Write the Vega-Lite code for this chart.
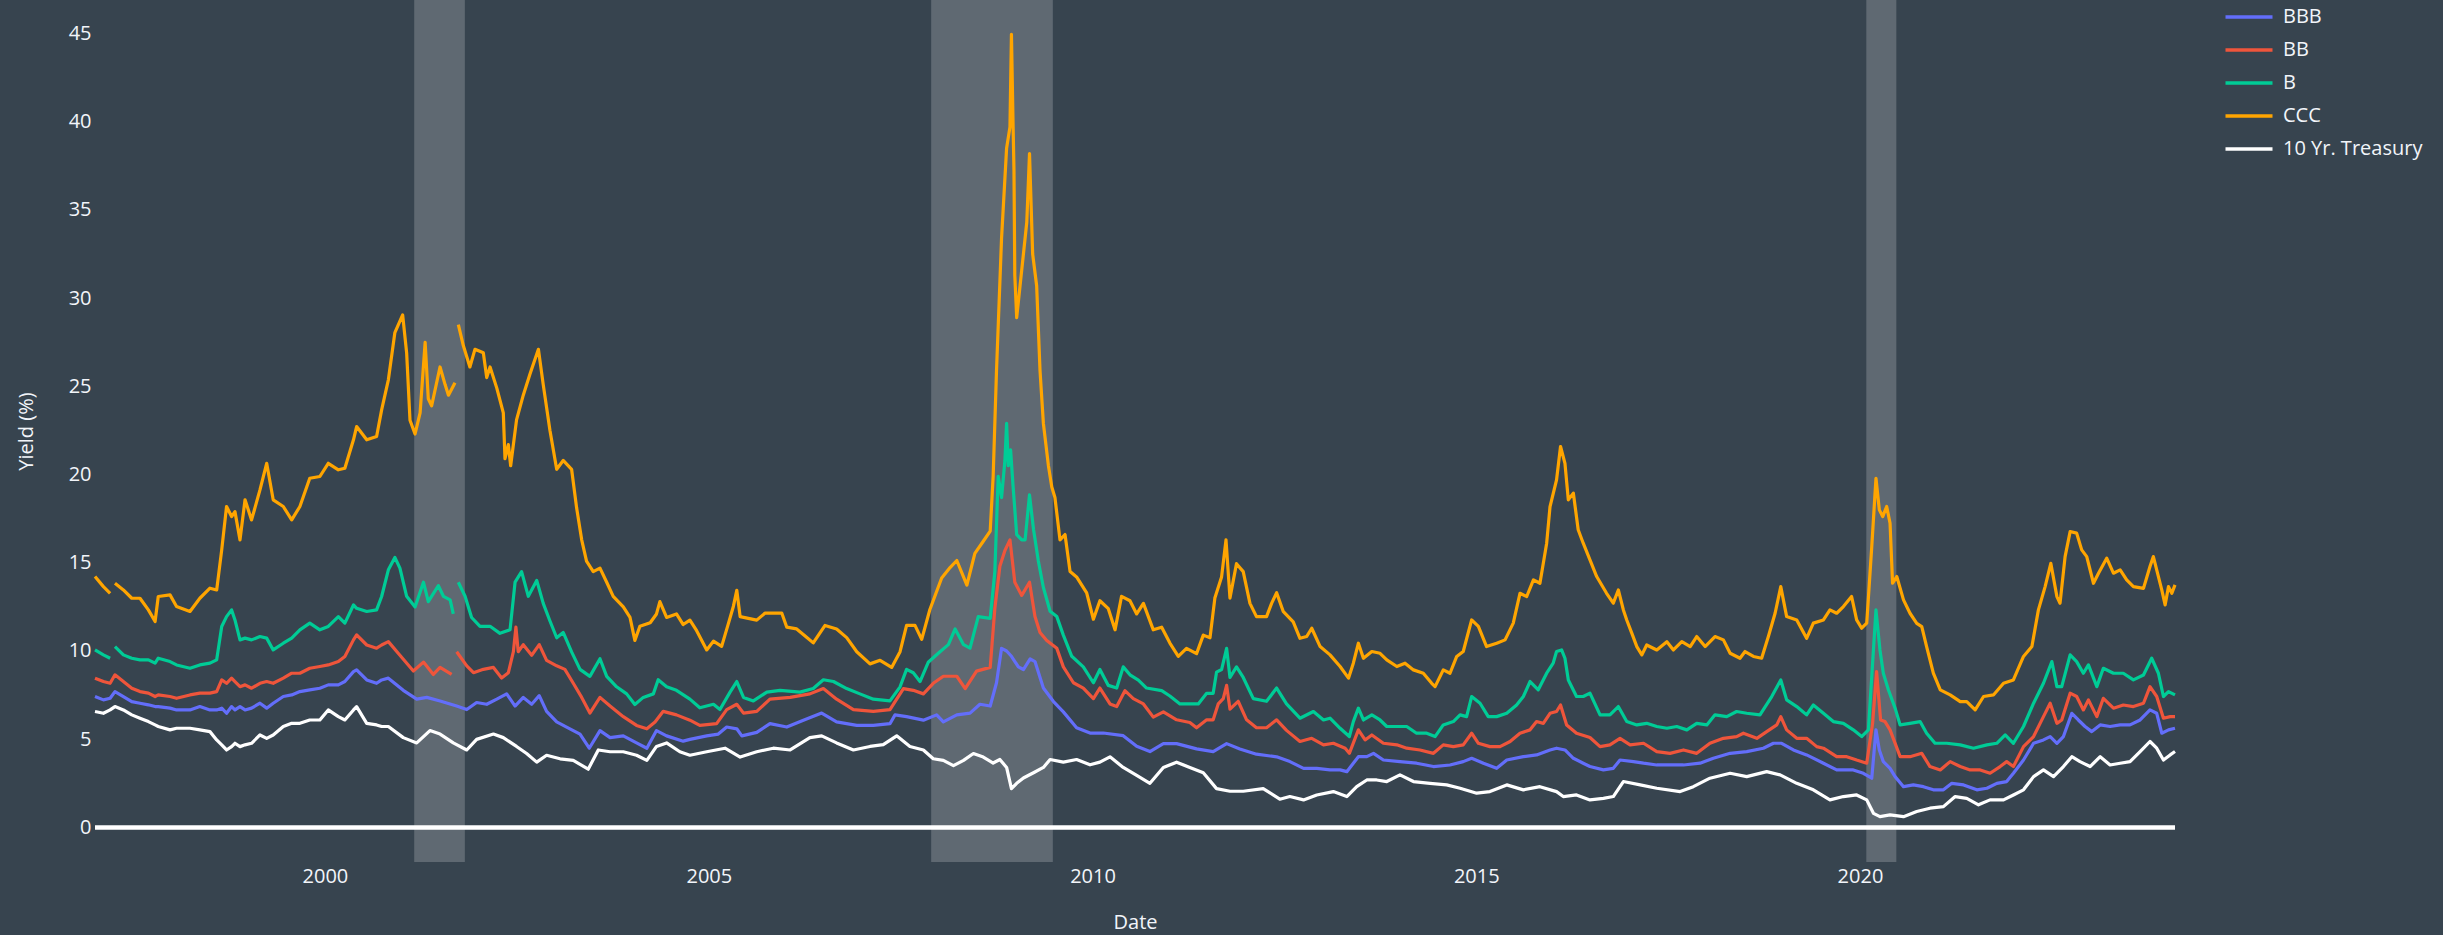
{
"$schema":"https://vega.github.io/schema/vega-lite/v6.json",
"width":2080,"height":862,
"autosize":{"type":"none"},
"padding":{"left":95,"top":0,"right":268,"bottom":73},
"background":"#37444f",
"config":{"view":{"stroke":null},"font":"Open Sans"},
"layer":[
{"data":{"values":[{"start":"2001-03-01","end":"2001-10-28"},{"start":"2007-11-25","end":"2009-06-26"},{"start":"2020-01-31","end":"2020-06-22"}]},
"mark":{"type":"rect","color":"#ffffff","opacity":0.2},
"encoding":{"x":{"field":"start","type":"temporal","scale":{"type":"utc"}},"x2":{"field":"end"}}},
{"data":{"values":[
{"d":"1997-01-02","s":"BBB","v":7.42},{"d":"1997-02-11","s":"BBB","v":7.23},{"d":"1997-03-15","s":"BBB","v":7.32},{"d":"1997-04-07","s":"BBB","v":7.70},{"d":"1997-05-17","s":"BBB","v":7.42},{"d":"1997-06-26","s":"BBB","v":7.13},{"d":"1997-08-04","s":"BBB","v":7.04},{"d":"1997-09-13","s":"BBB","v":6.95},{"d":"1997-10-15","s":"BBB","v":6.85},{"d":"1997-10-30","s":"BBB","v":6.85},{"d":"1997-12-25","s":"BBB","v":6.76},{"d":"1998-01-25","s":"BBB","v":6.66},{"d":"1998-03-30","s":"BBB","v":6.66},{"d":"1998-05-16","s":"BBB","v":6.85},{"d":"1998-07-03","s":"BBB","v":6.66},{"d":"1998-08-04","s":"BBB","v":6.66},{"d":"1998-08-28","s":"BBB","v":6.76},{"d":"1998-09-20","s":"BBB","v":6.47},{"d":"1998-10-14","s":"BBB","v":6.85},{"d":"1998-10-30","s":"BBB","v":6.66},{"d":"1998-11-23","s":"BBB","v":6.85},{"d":"1998-12-17","s":"BBB","v":6.66},{"d":"1999-01-17","s":"BBB","v":6.76},{"d":"1999-02-26","s":"BBB","v":7.04},{"d":"1999-03-30","s":"BBB","v":6.76},{"d":"1999-04-30","s":"BBB","v":7.04},{"d":"1999-06-17","s":"BBB","v":7.42},{"d":"1999-07-27","s":"BBB","v":7.51},{"d":"1999-09-04","s":"BBB","v":7.70},{"d":"1999-10-21","s":"BBB","v":7.80},{"d":"1999-12-08","s":"BBB","v":7.89},{"d":"2000-01-17","s":"BBB","v":8.08},{"d":"2000-03-05","s":"BBB","v":8.08},{"d":"2000-04-05","s":"BBB","v":8.27},{"d":"2000-05-16","s":"BBB","v":8.83},{"d":"2000-05-31","s":"BBB","v":8.93},{"d":"2000-07-18","s":"BBB","v":8.36},{"d":"2000-09-03","s":"BBB","v":8.17},{"d":"2000-09-27","s":"BBB","v":8.36},{"d":"2000-10-29","s":"BBB","v":8.46},{"d":"2001-01-08","s":"BBB","v":7.77},{"d":"2001-03-13","s":"BBB","v":7.27},{"d":"2001-04-30","s":"BBB","v":7.37},{"d":"2001-07-02","s":"BBB","v":7.17},{"d":"2001-09-19","s":"BBB","v":6.88},{"d":"2001-11-06","s":"BBB","v":6.68},{"d":"2001-12-23","s":"BBB","v":7.08},{"d":"2002-02-09","s":"BBB","v":6.98},{"d":"2002-03-29","s":"BBB","v":7.27},{"d":"2002-05-15","s":"BBB","v":7.57},{"d":"2002-06-24","s":"BBB","v":6.88},{"d":"2002-08-02","s":"BBB","v":7.37},{"d":"2002-09-11","s":"BBB","v":6.98},{"d":"2002-10-17","s":"BBB","v":7.47},{"d":"2002-11-21","s":"BBB","v":6.58},{"d":"2003-01-08","s":"BBB","v":5.98},{"d":"2003-03-12","s":"BBB","v":5.59},{"d":"2003-04-29","s":"BBB","v":5.29},{"d":"2003-06-12","s":"BBB","v":4.49},{"d":"2003-08-02","s":"BBB","v":5.49},{"d":"2003-09-19","s":"BBB","v":5.09},{"d":"2003-11-21","s":"BBB","v":5.19},{"d":"2004-01-23","s":"BBB","v":4.79},{"d":"2004-03-12","s":"BBB","v":4.49},{"d":"2004-04-27","s":"BBB","v":5.49},{"d":"2004-06-14","s":"BBB","v":5.19},{"d":"2004-09-01","s":"BBB","v":4.89},{"d":"2004-10-03","s":"BBB","v":4.99},{"d":"2004-12-22","s":"BBB","v":5.19},{"d":"2005-02-15","s":"BBB","v":5.29},{"d":"2005-03-27","s":"BBB","v":5.69},{"d":"2005-05-14","s":"BBB","v":5.59},{"d":"2005-06-07","s":"BBB","v":5.19},{"d":"2005-08-17","s":"BBB","v":5.39},{"d":"2005-10-19","s":"BBB","v":5.88},{"d":"2006-01-07","s":"BBB","v":5.69},{"d":"2006-03-27","s":"BBB","v":6.08},{"d":"2006-06-22","s":"BBB","v":6.48},{"d":"2006-09-01","s":"BBB","v":5.98},{"d":"2006-12-06","s":"BBB","v":5.78},{"d":"2007-02-23","s":"BBB","v":5.78},{"d":"2007-05-13","s":"BBB","v":5.88},{"d":"2007-06-06","s":"BBB","v":6.38},{"d":"2007-07-31","s":"BBB","v":6.28},{"d":"2007-10-19","s":"BBB","v":6.08},{"d":"2007-12-21","s":"BBB","v":6.38},{"d":"2008-01-22","s":"BBB","v":5.98},{"d":"2008-03-26","s":"BBB","v":6.38},{"d":"2008-05-28","s":"BBB","v":6.48},{"d":"2008-07-14","s":"BBB","v":6.98},{"d":"2008-09-01","s":"BBB","v":6.88},{"d":"2008-10-01","s":"BBB","v":8.2},{"d":"2008-10-25","s":"BBB","v":10.15},{"d":"2008-11-18","s":"BBB","v":10.0},{"d":"2008-12-11","s":"BBB","v":9.7},{"d":"2009-01-13","s":"BBB","v":9.1},{"d":"2009-02-06","s":"BBB","v":8.95},{"d":"2009-03-10","s":"BBB","v":9.55},{"d":"2009-04-02","s":"BBB","v":9.4},{"d":"2009-05-12","s":"BBB","v":7.9},{"d":"2009-06-28","s":"BBB","v":7.15},{"d":"2009-08-15","s":"BBB","v":6.55},{"d":"2009-10-17","s":"BBB","v":5.65},{"d":"2009-12-20","s":"BBB","v":5.35},{"d":"2010-02-21","s":"BBB","v":5.35},{"d":"2010-05-27","s":"BBB","v":5.2},{"d":"2010-07-30","s":"BBB","v":4.6},{"d":"2010-10-01","s":"BBB","v":4.3},{"d":"2010-12-04","s":"BBB","v":4.75},{"d":"2011-02-05","s":"BBB","v":4.75},{"d":"2011-05-11","s":"BBB","v":4.45},{"d":"2011-07-29","s":"BBB","v":4.3},{"d":"2011-10-01","s":"BBB","v":4.75},{"d":"2011-12-03","s":"BBB","v":4.45},{"d":"2012-02-20","s":"BBB","v":4.15},{"d":"2012-05-26","s":"BBB","v":4.0},{"d":"2012-07-28","s":"BBB","v":3.73},{"d":"2012-10-01","s":"BBB","v":3.35},{"d":"2012-12-03","s":"BBB","v":3.35},{"d":"2013-02-04","s":"BBB","v":3.26},{"d":"2013-03-24","s":"BBB","v":3.26},{"d":"2013-04-25","s":"BBB","v":3.16},{"d":"2013-06-19","s":"BBB","v":4.01},{"d":"2013-07-29","s":"BBB","v":4.01},{"d":"2013-08-30","s":"BBB","v":4.2},{"d":"2013-10-16","s":"BBB","v":3.82},{"d":"2014-01-03","s":"BBB","v":3.73},{"d":"2014-03-23","s":"BBB","v":3.64},{"d":"2014-06-11","s":"BBB","v":3.45},{"d":"2014-08-29","s":"BBB","v":3.54},{"d":"2014-10-31","s":"BBB","v":3.73},{"d":"2014-12-10","s":"BBB","v":3.92},{"d":"2015-02-04","s":"BBB","v":3.64},{"d":"2015-04-08","s":"BBB","v":3.35},{"d":"2015-05-26","s":"BBB","v":3.82},{"d":"2015-08-13","s":"BBB","v":4.01},{"d":"2015-10-15","s":"BBB","v":4.11},{"d":"2015-12-18","s":"BBB","v":4.39},{"d":"2016-01-18","s":"BBB","v":4.49},{"d":"2016-02-27","s":"BBB","v":4.39},{"d":"2016-04-07","s":"BBB","v":3.92},{"d":"2016-05-24","s":"BBB","v":3.64},{"d":"2016-06-25","s":"BBB","v":3.45},{"d":"2016-08-28","s":"BBB","v":3.26},{"d":"2016-10-14","s":"BBB","v":3.35},{"d":"2016-11-15","s":"BBB","v":3.82},{"d":"2017-01-18","s":"BBB","v":3.73},{"d":"2017-03-07","s":"BBB","v":3.64},{"d":"2017-05-09","s":"BBB","v":3.54},{"d":"2017-07-11","s":"BBB","v":3.54},{"d":"2017-09-13","s":"BBB","v":3.54},{"d":"2017-12-01","s":"BBB","v":3.64},{"d":"2018-02-02","s":"BBB","v":3.92},{"d":"2018-04-23","s":"BBB","v":4.2},{"d":"2018-07-11","s":"BBB","v":4.3},{"d":"2018-09-28","s":"BBB","v":4.49},{"d":"2018-11-15","s":"BBB","v":4.77},{"d":"2018-12-24","s":"BBB","v":4.77},{"d":"2019-02-18","s":"BBB","v":4.39},{"d":"2019-04-22","s":"BBB","v":4.11},{"d":"2019-07-11","s":"BBB","v":3.64},{"d":"2019-09-12","s":"BBB","v":3.26},{"d":"2019-11-30","s":"BBB","v":3.26},{"d":"2020-01-17","s":"BBB","v":3.07},{"d":"2020-02-26","s":"BBB","v":2.79},{"d":"2020-03-17","s":"BBB","v":5.53},{"d":"2020-04-02","s":"BBB","v":4.39},{"d":"2020-04-21","s":"BBB","v":3.73},{"d":"2020-05-23","s":"BBB","v":3.35},{"d":"2020-06-16","s":"BBB","v":2.88},{"d":"2020-07-26","s":"BBB","v":2.31},{"d":"2020-09-11","s":"BBB","v":2.41},{"d":"2020-10-29","s":"BBB","v":2.31},{"d":"2020-12-15","s":"BBB","v":2.13},{"d":"2021-02-01","s":"BBB","v":2.13},{"d":"2021-03-13","s":"BBB","v":2.5},{"d":"2021-05-08","s":"BBB","v":2.41},{"d":"2021-07-10","s":"BBB","v":2.13},{"d":"2021-08-27","s":"BBB","v":2.22},{"d":"2021-10-13","s":"BBB","v":2.5},{"d":"2021-11-29","s":"BBB","v":2.6},{"d":"2021-12-31","s":"BBB","v":3.07},{"d":"2022-02-17","s":"BBB","v":3.82},{"d":"2022-04-06","s":"BBB","v":4.77},{"d":"2022-05-23","s":"BBB","v":4.96},{"d":"2022-06-24","s":"BBB","v":5.15},{"d":"2022-07-26","s":"BBB","v":4.77},{"d":"2022-08-26","s":"BBB","v":5.15},{"d":"2022-10-05","s":"BBB","v":6.47},{"d":"2022-11-05","s":"BBB","v":6.09},{"d":"2022-12-07","s":"BBB","v":5.72},{"d":"2023-01-08","s":"BBB","v":5.43},{"d":"2023-02-17","s":"BBB","v":5.81},{"d":"2023-04-05","s":"BBB","v":5.72},{"d":"2023-05-23","s":"BBB","v":5.81},{"d":"2023-07-09","s":"BBB","v":5.81},{"d":"2023-08-26","s":"BBB","v":6.09},{"d":"2023-10-12","s":"BBB","v":6.66},{"d":"2023-11-13","s":"BBB","v":6.47},{"d":"2023-12-07","s":"BBB","v":5.34},{"d":"2024-01-08","s":"BBB","v":5.53},{"d":"2024-02-08","s":"BBB","v":5.62},
{"d":"1997-01-02","s":"BB","v":8.46},{"d":"1997-02-11","s":"BB","v":8.27},{"d":"1997-03-15","s":"BB","v":8.17},{"d":"1997-04-07","s":"BB","v":8.65},{"d":"1997-05-17","s":"BB","v":8.27},{"d":"1997-06-26","s":"BB","v":7.89},{"d":"1997-08-04","s":"BB","v":7.70},{"d":"1997-09-13","s":"BB","v":7.61},{"d":"1997-10-15","s":"BB","v":7.42},{"d":"1997-10-30","s":"BB","v":7.51},{"d":"1997-12-25","s":"BB","v":7.42},{"d":"1998-01-25","s":"BB","v":7.32},{"d":"1998-03-30","s":"BB","v":7.51},{"d":"1998-05-16","s":"BB","v":7.61},{"d":"1998-07-03","s":"BB","v":7.61},{"d":"1998-08-04","s":"BB","v":7.70},{"d":"1998-08-28","s":"BB","v":8.36},{"d":"1998-09-20","s":"BB","v":8.17},{"d":"1998-10-14","s":"BB","v":8.46},{"d":"1998-10-30","s":"BB","v":8.27},{"d":"1998-11-23","s":"BB","v":7.98},{"d":"1998-12-17","s":"BB","v":8.08},{"d":"1999-01-17","s":"BB","v":7.89},{"d":"1999-02-26","s":"BB","v":8.17},{"d":"1999-03-30","s":"BB","v":8.27},{"d":"1999-04-30","s":"BB","v":8.17},{"d":"1999-06-17","s":"BB","v":8.46},{"d":"1999-07-27","s":"BB","v":8.74},{"d":"1999-09-04","s":"BB","v":8.74},{"d":"1999-10-21","s":"BB","v":9.02},{"d":"1999-12-08","s":"BB","v":9.12},{"d":"2000-01-17","s":"BB","v":9.21},{"d":"2000-03-05","s":"BB","v":9.40},{"d":"2000-04-05","s":"BB","v":9.69},{"d":"2000-05-16","s":"BB","v":10.63},{"d":"2000-05-31","s":"BB","v":10.91},{"d":"2000-07-18","s":"BB","v":10.34},{"d":"2000-09-03","s":"BB","v":10.16},{"d":"2000-09-27","s":"BB","v":10.34},{"d":"2000-10-29","s":"BB","v":10.53},{"d":"2000-12-23","s":"BB","v":9.76},{"d":"2001-02-25","s":"BB","v":8.87},{"d":"2001-04-14","s":"BB","v":9.37},{"d":"2001-05-31","s":"BB","v":8.67},{"d":"2001-07-02","s":"BB","v":9.07},{"d":"2001-08-26","s":"BB","v":8.67},{"d":"2001-09-10","s":"BB","v":null},{"d":"2001-09-19","s":"BB","v":9.96},{"d":"2001-11-06","s":"BB","v":9.16},{"d":"2001-12-08","s":"BB","v":8.77},{"d":"2002-01-24","s":"BB","v":8.96},{"d":"2002-03-13","s":"BB","v":9.07},{"d":"2002-04-21","s":"BB","v":8.47},{"d":"2002-05-23","s":"BB","v":8.77},{"d":"2002-06-16","s":"BB","v":9.96},{"d":"2002-06-28","s":"BB","v":11.35},{"d":"2002-07-09","s":"BB","v":9.96},{"d":"2002-08-02","s":"BB","v":10.36},{"d":"2002-09-11","s":"BB","v":9.76},{"d":"2002-10-17","s":"BB","v":10.36},{"d":"2002-11-21","s":"BB","v":9.47},{"d":"2003-01-08","s":"BB","v":9.16},{"d":"2003-02-16","s":"BB","v":8.96},{"d":"2003-03-28","s":"BB","v":8.17},{"d":"2003-05-07","s":"BB","v":7.37},{"d":"2003-06-15","s":"BB","v":6.48},{"d":"2003-08-02","s":"BB","v":7.37},{"d":"2003-09-19","s":"BB","v":6.88},{"d":"2003-11-21","s":"BB","v":6.28},{"d":"2004-01-23","s":"BB","v":5.78},{"d":"2004-03-12","s":"BB","v":5.59},{"d":"2004-04-20","s":"BB","v":5.98},{"d":"2004-05-29","s":"BB","v":6.58},{"d":"2004-07-31","s":"BB","v":6.38},{"d":"2004-10-03","s":"BB","v":6.08},{"d":"2004-11-19","s":"BB","v":5.78},{"d":"2005-02-07","s":"BB","v":5.88},{"d":"2005-03-27","s":"BB","v":6.68},{"d":"2005-05-14","s":"BB","v":6.98},{"d":"2005-06-15","s":"BB","v":6.48},{"d":"2005-08-17","s":"BB","v":6.58},{"d":"2005-10-19","s":"BB","v":7.27},{"d":"2006-01-23","s":"BB","v":7.37},{"d":"2006-04-27","s":"BB","v":7.57},{"d":"2006-06-30","s":"BB","v":7.87},{"d":"2006-09-01","s":"BB","v":7.27},{"d":"2006-11-20","s":"BB","v":6.68},{"d":"2007-02-23","s":"BB","v":6.58},{"d":"2007-05-13","s":"BB","v":6.68},{"d":"2007-07-16","s":"BB","v":7.87},{"d":"2007-09-01","s":"BB","v":7.77},{"d":"2007-10-19","s":"BB","v":7.57},{"d":"2007-12-05","s":"BB","v":8.17},{"d":"2008-01-22","s":"BB","v":8.57},{"d":"2008-03-26","s":"BB","v":8.57},{"d":"2008-05-05","s":"BB","v":7.87},{"d":"2008-06-28","s":"BB","v":8.86},{"d":"2008-09-01","s":"BB","v":9.07},{"d":"2008-09-23","s":"BB","v":12.4},{"d":"2008-10-17","s":"BB","v":14.8},{"d":"2008-11-10","s":"BB","v":15.7},{"d":"2008-12-04","s":"BB","v":16.3},{"d":"2008-12-27","s":"BB","v":13.9},{"d":"2009-01-29","s":"BB","v":13.15},{"d":"2009-03-07","s":"BB","v":13.9},{"d":"2009-04-02","s":"BB","v":11.95},{"d":"2009-04-26","s":"BB","v":11.05},{"d":"2009-05-28","s":"BB","v":10.6},{"d":"2009-07-15","s":"BB","v":10.15},{"d":"2009-08-15","s":"BB","v":9.1},{"d":"2009-10-02","s":"BB","v":8.2},{"d":"2009-11-18","s":"BB","v":7.9},{"d":"2010-01-05","s":"BB","v":7.3},{"d":"2010-02-05","s":"BB","v":7.9},{"d":"2010-03-25","s":"BB","v":7.0},{"d":"2010-04-26","s":"BB","v":6.85},{"d":"2010-06-04","s":"BB","v":7.75},{"d":"2010-07-14","s":"BB","v":7.3},{"d":"2010-08-31","s":"BB","v":7.0},{"d":"2010-10-17","s":"BB","v":6.25},{"d":"2010-12-04","s":"BB","v":6.55},{"d":"2011-02-05","s":"BB","v":6.1},{"d":"2011-04-09","s":"BB","v":5.95},{"d":"2011-05-11","s":"BB","v":5.65},{"d":"2011-06-28","s":"BB","v":6.1},{"d":"2011-07-29","s":"BB","v":6.1},{"d":"2011-08-22","s":"BB","v":7.0},{"d":"2011-09-15","s":"BB","v":7.3},{"d":"2011-10-01","s":"BB","v":8.05},{"d":"2011-10-17","s":"BB","v":6.7},{"d":"2011-11-25","s":"BB","v":7.15},{"d":"2012-01-04","s":"BB","v":6.1},{"d":"2012-02-20","s":"BB","v":5.65},{"d":"2012-04-08","s":"BB","v":5.65},{"d":"2012-05-26","s":"BB","v":6.1},{"d":"2012-07-12","s":"BB","v":5.5},{"d":"2012-09-14","s":"BB","v":4.87},{"d":"2012-11-09","s":"BB","v":5.05},{"d":"2013-01-04","s":"BB","v":4.68},{"d":"2013-02-20","s":"BB","v":4.77},{"d":"2013-04-17","s":"BB","v":4.49},{"d":"2013-05-07","s":"BB","v":4.2},{"d":"2013-06-19","s":"BB","v":5.53},{"d":"2013-07-21","s":"BB","v":4.96},{"d":"2013-08-22","s":"BB","v":5.24},{"d":"2013-10-16","s":"BB","v":4.77},{"d":"2013-12-19","s":"BB","v":4.68},{"d":"2014-02-04","s":"BB","v":4.49},{"d":"2014-04-08","s":"BB","v":4.39},{"d":"2014-06-11","s":"BB","v":4.2},{"d":"2014-07-28","s":"BB","v":4.68},{"d":"2014-09-14","s":"BB","v":4.58},{"d":"2014-10-31","s":"BB","v":4.68},{"d":"2014-12-10","s":"BB","v":5.34},{"d":"2015-01-11","s":"BB","v":4.77},{"d":"2015-03-07","s":"BB","v":4.58},{"d":"2015-04-24","s":"BB","v":4.58},{"d":"2015-06-11","s":"BB","v":4.87},{"d":"2015-07-28","s":"BB","v":5.34},{"d":"2015-09-14","s":"BB","v":5.53},{"d":"2015-10-15","s":"BB","v":6.0},{"d":"2015-11-16","s":"BB","v":5.9},{"d":"2015-12-18","s":"BB","v":6.47},{"d":"2016-01-18","s":"BB","v":6.57},{"d":"2016-02-06","s":"BB","v":6.94},{"d":"2016-03-06","s":"BB","v":5.81},{"d":"2016-04-22","s":"BB","v":5.34},{"d":"2016-06-25","s":"BB","v":5.1},{"d":"2016-08-12","s":"BB","v":4.58},{"d":"2016-09-28","s":"BB","v":4.68},{"d":"2016-11-15","s":"BB","v":5.05},{"d":"2017-01-02","s":"BB","v":4.68},{"d":"2017-03-07","s":"BB","v":4.77},{"d":"2017-05-09","s":"BB","v":4.3},{"d":"2017-07-11","s":"BB","v":4.2},{"d":"2017-09-13","s":"BB","v":4.39},{"d":"2017-11-15","s":"BB","v":4.2},{"d":"2018-01-17","s":"BB","v":4.77},{"d":"2018-03-22","s":"BB","v":5.05},{"d":"2018-05-24","s":"BB","v":5.15},{"d":"2018-06-25","s":"BB","v":5.34},{"d":"2018-08-28","s":"BB","v":5.05},{"d":"2018-10-14","s":"BB","v":5.43},{"d":"2018-12-01","s":"BB","v":5.81},{"d":"2018-12-20","s":"BB","v":6.28},{"d":"2019-01-17","s":"BB","v":5.53},{"d":"2019-03-06","s":"BB","v":5.05},{"d":"2019-04-22","s":"BB","v":5.05},{"d":"2019-06-09","s":"BB","v":4.58},{"d":"2019-07-11","s":"BB","v":4.49},{"d":"2019-09-12","s":"BB","v":4.01},{"d":"2019-10-30","s":"BB","v":4.01},{"d":"2019-12-16","s":"BB","v":3.82},{"d":"2020-02-02","s":"BB","v":3.64},{"d":"2020-03-01","s":"BB","v":5.9},{"d":"2020-03-20","s":"BB","v":8.83},{"d":"2020-04-08","s":"BB","v":6.09},{"d":"2020-04-29","s":"BB","v":6.0},{"d":"2020-05-23","s":"BB","v":5.53},{"d":"2020-07-10","s":"BB","v":4.01},{"d":"2020-08-26","s":"BB","v":4.01},{"d":"2020-10-21","s":"BB","v":4.2},{"d":"2020-11-29","s":"BB","v":3.45},{"d":"2021-01-17","s":"BB","v":3.26},{"d":"2021-03-05","s":"BB","v":3.73},{"d":"2021-04-22","s":"BB","v":3.45},{"d":"2021-06-08","s":"BB","v":3.26},{"d":"2021-07-26","s":"BB","v":3.26},{"d":"2021-09-11","s":"BB","v":3.07},{"d":"2021-10-29","s":"BB","v":3.45},{"d":"2021-11-29","s":"BB","v":3.73},{"d":"2021-12-31","s":"BB","v":3.45},{"d":"2022-02-17","s":"BB","v":4.58},{"d":"2022-04-06","s":"BB","v":5.15},{"d":"2022-05-23","s":"BB","v":6.28},{"d":"2022-06-24","s":"BB","v":7.04},{"d":"2022-07-26","s":"BB","v":5.9},{"d":"2022-08-18","s":"BB","v":6.09},{"d":"2022-09-27","s":"BB","v":7.61},{"d":"2022-10-28","s":"BB","v":7.42},{"d":"2022-11-29","s":"BB","v":6.66},{"d":"2022-12-23","s":"BB","v":7.23},{"d":"2023-02-01","s":"BB","v":6.28},{"d":"2023-03-04","s":"BB","v":7.32},{"d":"2023-04-21","s":"BB","v":6.76},{"d":"2023-06-07","s":"BB","v":6.94},{"d":"2023-07-25","s":"BB","v":6.85},{"d":"2023-09-11","s":"BB","v":7.04},{"d":"2023-10-12","s":"BB","v":7.98},{"d":"2023-11-13","s":"BB","v":7.42},{"d":"2023-12-15","s":"BB","v":6.19},{"d":"2024-01-16","s":"BB","v":6.28},{"d":"2024-02-08","s":"BB","v":6.28},
{"d":"1997-01-02","s":"B","v":10.06},{"d":"1997-02-11","s":"B","v":9.78},{"d":"1997-03-15","s":"B","v":9.59},{"d":"1997-03-27","s":"B","v":null},{"d":"1997-04-07","s":"B","v":10.25},{"d":"1997-05-17","s":"B","v":9.78},{"d":"1997-06-26","s":"B","v":9.59},{"d":"1997-08-04","s":"B","v":9.50},{"d":"1997-09-13","s":"B","v":9.50},{"d":"1997-10-15","s":"B","v":9.31},{"d":"1997-10-30","s":"B","v":9.59},{"d":"1997-12-25","s":"B","v":9.40},{"d":"1998-01-25","s":"B","v":9.21},{"d":"1998-03-30","s":"B","v":9.02},{"d":"1998-05-16","s":"B","v":9.21},{"d":"1998-07-03","s":"B","v":9.31},{"d":"1998-08-04","s":"B","v":9.50},{"d":"1998-08-28","s":"B","v":11.39},{"d":"1998-09-20","s":"B","v":11.95},{"d":"1998-10-14","s":"B","v":12.33},{"d":"1998-10-30","s":"B","v":11.76},{"d":"1998-11-23","s":"B","v":10.63},{"d":"1998-12-17","s":"B","v":10.73},{"d":"1999-01-17","s":"B","v":10.63},{"d":"1999-02-26","s":"B","v":10.82},{"d":"1999-03-30","s":"B","v":10.73},{"d":"1999-04-30","s":"B","v":10.06},{"d":"1999-06-17","s":"B","v":10.44},{"d":"1999-07-27","s":"B","v":10.73},{"d":"1999-09-04","s":"B","v":11.20},{"d":"1999-10-21","s":"B","v":11.58},{"d":"1999-12-08","s":"B","v":11.20},{"d":"2000-01-17","s":"B","v":11.39},{"d":"2000-03-05","s":"B","v":11.95},{"d":"2000-04-05","s":"B","v":11.58},{"d":"2000-05-16","s":"B","v":12.61},{"d":"2000-05-31","s":"B","v":12.42},{"d":"2000-07-18","s":"B","v":12.24},{"d":"2000-09-03","s":"B","v":12.33},{"d":"2000-09-27","s":"B","v":13.09},{"d":"2000-10-29","s":"B","v":14.60},{"d":"2000-11-29","s":"B","v":15.3},{"d":"2000-12-23","s":"B","v":14.7},{"d":"2001-01-24","s":"B","v":13.1},{"d":"2001-03-05","s":"B","v":12.5},{"d":"2001-04-14","s":"B","v":13.9},{"d":"2001-05-07","s":"B","v":12.8},{"d":"2001-06-24","s":"B","v":13.7},{"d":"2001-07-18","s":"B","v":13.1},{"d":"2001-08-19","s":"B","v":12.9},{"d":"2001-09-03","s":"B","v":12.1},{"d":"2001-09-11","s":"B","v":null},{"d":"2001-09-27","s":"B","v":13.9},{"d":"2001-10-29","s":"B","v":13.1},{"d":"2001-11-29","s":"B","v":11.9},{"d":"2002-01-08","s":"B","v":11.4},{"d":"2002-02-25","s":"B","v":11.4},{"d":"2002-04-13","s":"B","v":11.0},{"d":"2002-05-31","s":"B","v":11.2},{"d":"2002-06-24","s":"B","v":13.9},{"d":"2002-07-25","s":"B","v":14.5},{"d":"2002-08-26","s":"B","v":13.1},{"d":"2002-10-05","s":"B","v":14.0},{"d":"2002-11-05","s":"B","v":12.7},{"d":"2002-12-07","s":"B","v":11.7},{"d":"2003-01-08","s":"B","v":10.75},{"d":"2003-02-08","s":"B","v":11.05},{"d":"2003-03-20","s":"B","v":9.95},{"d":"2003-04-29","s":"B","v":8.96},{"d":"2003-06-15","s":"B","v":8.56},{"d":"2003-08-02","s":"B","v":9.56},{"d":"2003-09-03","s":"B","v":8.56},{"d":"2003-10-20","s":"B","v":7.97},{"d":"2003-12-07","s":"B","v":7.57},{"d":"2004-01-15","s":"B","v":6.97},{"d":"2004-02-24","s":"B","v":7.37},{"d":"2004-04-12","s":"B","v":7.57},{"d":"2004-05-05","s":"B","v":8.37},{"d":"2004-06-14","s":"B","v":7.97},{"d":"2004-07-31","s":"B","v":7.77},{"d":"2004-10-03","s":"B","v":7.27},{"d":"2004-11-19","s":"B","v":6.78},{"d":"2005-01-23","s":"B","v":6.98},{"d":"2005-02-23","s":"B","v":6.68},{"d":"2005-04-12","s":"B","v":7.67},{"d":"2005-05-14","s":"B","v":8.27},{"d":"2005-06-15","s":"B","v":7.37},{"d":"2005-08-01","s":"B","v":7.17},{"d":"2005-10-04","s":"B","v":7.67},{"d":"2005-12-06","s":"B","v":7.77},{"d":"2006-03-11","s":"B","v":7.67},{"d":"2006-05-13","s":"B","v":7.87},{"d":"2006-06-30","s":"B","v":8.37},{"d":"2006-08-17","s":"B","v":8.27},{"d":"2006-10-19","s":"B","v":7.87},{"d":"2006-12-21","s":"B","v":7.57},{"d":"2007-02-23","s":"B","v":7.27},{"d":"2007-05-13","s":"B","v":7.17},{"d":"2007-06-30","s":"B","v":7.97},{"d":"2007-07-31","s":"B","v":8.96},{"d":"2007-09-01","s":"B","v":8.77},{"d":"2007-10-03","s":"B","v":8.27},{"d":"2007-11-11","s":"B","v":9.36},{"d":"2008-01-06","s":"B","v":9.96},{"d":"2008-02-15","s":"B","v":10.36},{"d":"2008-03-18","s":"B","v":11.25},{"d":"2008-04-27","s":"B","v":10.36},{"d":"2008-05-28","s":"B","v":10.16},{"d":"2008-07-06","s":"B","v":11.95},{"d":"2008-09-01","s":"B","v":11.85},{"d":"2008-09-23","s":"B","v":14.5},{"d":"2008-10-09","s":"B","v":19.9},{"d":"2008-10-25","s":"B","v":18.7},{"d":"2008-11-10","s":"B","v":20.8},{"d":"2008-11-18","s":"B","v":22.9},{"d":"2008-11-26","s":"B","v":20.5},{"d":"2008-12-07","s":"B","v":21.4},{"d":"2008-12-19","s":"B","v":19.3},{"d":"2009-01-05","s":"B","v":16.6},{"d":"2009-01-29","s":"B","v":16.3},{"d":"2009-02-14","s":"B","v":16.3},{"d":"2009-03-07","s":"B","v":18.85},{"d":"2009-03-26","s":"B","v":16.9},{"d":"2009-04-18","s":"B","v":15.1},{"d":"2009-05-12","s":"B","v":13.6},{"d":"2009-06-13","s":"B","v":12.25},{"d":"2009-07-15","s":"B","v":11.95},{"d":"2009-08-15","s":"B","v":10.9},{"d":"2009-09-24","s":"B","v":9.7},{"d":"2009-11-18","s":"B","v":9.1},{"d":"2010-01-05","s":"B","v":8.2},{"d":"2010-02-05","s":"B","v":8.95},{"d":"2010-03-17","s":"B","v":8.05},{"d":"2010-04-26","s":"B","v":7.9},{"d":"2010-05-27","s":"B","v":9.1},{"d":"2010-06-28","s":"B","v":8.65},{"d":"2010-08-07","s":"B","v":8.35},{"d":"2010-09-15","s":"B","v":7.9},{"d":"2010-11-26","s":"B","v":7.75},{"d":"2011-01-04","s":"B","v":7.45},{"d":"2011-02-21","s":"B","v":7.0},{"d":"2011-04-09","s":"B","v":7.0},{"d":"2011-05-19","s":"B","v":7.0},{"d":"2011-06-28","s":"B","v":7.6},{"d":"2011-07-29","s":"B","v":7.6},{"d":"2011-08-14","s":"B","v":8.8},{"d":"2011-09-07","s":"B","v":8.95},{"d":"2011-10-01","s":"B","v":10.15},{"d":"2011-10-17","s":"B","v":8.5},{"d":"2011-11-17","s":"B","v":9.1},{"d":"2011-12-19","s":"B","v":8.5},{"d":"2012-02-05","s":"B","v":7.3},{"d":"2012-04-08","s":"B","v":7.15},{"d":"2012-05-26","s":"B","v":7.9},{"d":"2012-07-12","s":"B","v":7.0},{"d":"2012-09-14","s":"B","v":6.19},{"d":"2012-11-17","s":"B","v":6.57},{"d":"2013-01-04","s":"B","v":6.09},{"d":"2013-02-04","s":"B","v":6.19},{"d":"2013-03-24","s":"B","v":5.62},{"d":"2013-05-07","s":"B","v":5.15},{"d":"2013-05-26","s":"B","v":6.0},{"d":"2013-06-19","s":"B","v":6.76},{"d":"2013-07-13","s":"B","v":6.09},{"d":"2013-08-22","s":"B","v":6.38},{"d":"2013-09-30","s":"B","v":6.09},{"d":"2013-11-01","s":"B","v":5.72},{"d":"2013-12-19","s":"B","v":5.72},{"d":"2014-02-04","s":"B","v":5.72},{"d":"2014-03-23","s":"B","v":5.34},{"d":"2014-05-10","s":"B","v":5.34},{"d":"2014-06-19","s":"B","v":5.15},{"d":"2014-07-28","s":"B","v":5.81},{"d":"2014-09-14","s":"B","v":6.0},{"d":"2014-10-16","s":"B","v":6.38},{"d":"2014-11-16","s":"B","v":6.28},{"d":"2014-12-10","s":"B","v":7.42},{"d":"2015-01-19","s":"B","v":7.04},{"d":"2015-02-27","s":"B","v":6.28},{"d":"2015-04-08","s":"B","v":6.28},{"d":"2015-05-26","s":"B","v":6.47},{"d":"2015-07-12","s":"B","v":6.94},{"d":"2015-08-13","s":"B","v":7.42},{"d":"2015-09-14","s":"B","v":8.27},{"d":"2015-10-23","s":"B","v":7.8},{"d":"2015-12-02","s":"B","v":8.74},{"d":"2016-01-02","s":"B","v":9.31},{"d":"2016-01-18","s":"B","v":9.97},{"d":"2016-02-11","s":"B","v":10.06},{"d":"2016-02-27","s":"B","v":9.59},{"d":"2016-03-14","s":"B","v":8.36},{"d":"2016-04-22","s":"B","v":7.42},{"d":"2016-05-24","s":"B","v":7.42},{"d":"2016-06-25","s":"B","v":7.61},{"d":"2016-08-12","s":"B","v":6.38},{"d":"2016-09-28","s":"B","v":6.38},{"d":"2016-11-07","s":"B","v":6.85},{"d":"2016-12-17","s":"B","v":6.0},{"d":"2017-02-03","s":"B","v":5.81},{"d":"2017-03-22","s":"B","v":5.9},{"d":"2017-05-09","s":"B","v":5.72},{"d":"2017-06-26","s":"B","v":5.62},{"d":"2017-08-12","s":"B","v":5.72},{"d":"2017-09-29","s":"B","v":5.53},{"d":"2017-11-15","s":"B","v":5.9},{"d":"2018-01-02","s":"B","v":5.81},{"d":"2018-02-10","s":"B","v":6.38},{"d":"2018-04-07","s":"B","v":6.28},{"d":"2018-05-24","s":"B","v":6.57},{"d":"2018-07-11","s":"B","v":6.47},{"d":"2018-09-12","s":"B","v":6.38},{"d":"2018-11-07","s":"B","v":7.42},{"d":"2018-12-20","s":"B","v":8.36},{"d":"2019-01-17","s":"B","v":7.23},{"d":"2019-03-06","s":"B","v":6.85},{"d":"2019-04-22","s":"B","v":6.38},{"d":"2019-05-24","s":"B","v":6.94},{"d":"2019-07-11","s":"B","v":6.47},{"d":"2019-08-27","s":"B","v":6.0},{"d":"2019-10-14","s":"B","v":5.9},{"d":"2019-11-30","s":"B","v":5.53},{"d":"2020-01-09","s":"B","v":5.15},{"d":"2020-02-10","s":"B","v":5.53},{"d":"2020-03-01","s":"B","v":9.31},{"d":"2020-03-17","s":"B","v":12.33},{"d":"2020-04-05","s":"B","v":10.06},{"d":"2020-04-21","s":"B","v":8.74},{"d":"2020-05-15","s":"B","v":7.8},{"d":"2020-06-16","s":"B","v":6.76},{"d":"2020-07-10","s":"B","v":5.81},{"d":"2020-08-26","s":"B","v":5.9},{"d":"2020-10-13","s":"B","v":6.0},{"d":"2020-11-13","s":"B","v":5.34},{"d":"2020-12-23","s":"B","v":4.77},{"d":"2021-02-17","s":"B","v":4.77},{"d":"2021-04-22","s":"B","v":4.68},{"d":"2021-06-24","s":"B","v":4.49},{"d":"2021-08-27","s":"B","v":4.68},{"d":"2021-10-13","s":"B","v":4.77},{"d":"2021-11-22","s":"B","v":5.24},{"d":"2021-12-31","s":"B","v":4.77},{"d":"2022-02-17","s":"B","v":5.72},{"d":"2022-04-06","s":"B","v":7.04},{"d":"2022-05-23","s":"B","v":8.17},{"d":"2022-07-02","s":"B","v":9.4},{"d":"2022-07-26","s":"B","v":7.98},{"d":"2022-08-18","s":"B","v":7.98},{"d":"2022-09-27","s":"B","v":9.78},{"d":"2022-10-28","s":"B","v":9.4},{"d":"2022-11-29","s":"B","v":8.74},{"d":"2022-12-23","s":"B","v":9.21},{"d":"2023-02-01","s":"B","v":7.98},{"d":"2023-03-04","s":"B","v":9.02},{"d":"2023-04-21","s":"B","v":8.74},{"d":"2023-06-07","s":"B","v":8.74},{"d":"2023-07-25","s":"B","v":8.36},{"d":"2023-09-11","s":"B","v":8.64},{"d":"2023-10-20","s":"B","v":9.59},{"d":"2023-11-21","s":"B","v":8.74},{"d":"2023-12-15","s":"B","v":7.42},{"d":"2024-01-08","s":"B","v":7.7},{"d":"2024-02-08","s":"B","v":7.51},
{"d":"1997-01-02","s":"CCC","v":14.22},{"d":"1997-02-11","s":"CCC","v":13.65},{"d":"1997-03-15","s":"CCC","v":13.27},{"d":"1997-03-27","s":"CCC","v":null},{"d":"1997-04-07","s":"CCC","v":13.84},{"d":"1997-05-17","s":"CCC","v":13.46},{"d":"1997-06-26","s":"CCC","v":12.99},{"d":"1997-08-04","s":"CCC","v":12.99},{"d":"1997-09-13","s":"CCC","v":12.33},{"d":"1997-10-15","s":"CCC","v":11.67},{"d":"1997-10-30","s":"CCC","v":13.09},{"d":"1997-12-25","s":"CCC","v":13.18},{"d":"1998-01-25","s":"CCC","v":12.52},{"d":"1998-03-30","s":"CCC","v":12.24},{"d":"1998-05-16","s":"CCC","v":12.99},{"d":"1998-07-03","s":"CCC","v":13.56},{"d":"1998-08-04","s":"CCC","v":13.46},{"d":"1998-08-28","s":"CCC","v":15.73},{"d":"1998-09-20","s":"CCC","v":18.19},{"d":"1998-10-14","s":"CCC","v":17.62},{"d":"1998-10-30","s":"CCC","v":17.90},{"d":"1998-11-23","s":"CCC","v":16.30},{"d":"1998-12-17","s":"CCC","v":18.57},{"d":"1999-01-17","s":"CCC","v":17.43},{"d":"1999-02-26","s":"CCC","v":19.13},{"d":"1999-03-30","s":"CCC","v":20.64},{"d":"1999-04-30","s":"CCC","v":18.57},{"d":"1999-06-17","s":"CCC","v":18.19},{"d":"1999-07-27","s":"CCC","v":17.43},{"d":"1999-09-04","s":"CCC","v":18.19},{"d":"1999-10-21","s":"CCC","v":19.79},{"d":"1999-12-08","s":"CCC","v":19.89},{"d":"2000-01-17","s":"CCC","v":20.64},{"d":"2000-03-05","s":"CCC","v":20.27},{"d":"2000-04-05","s":"CCC","v":20.36},{"d":"2000-05-16","s":"CCC","v":21.97},{"d":"2000-05-31","s":"CCC","v":22.72},{"d":"2000-07-18","s":"CCC","v":21.97},{"d":"2000-09-03","s":"CCC","v":22.16},{"d":"2000-09-27","s":"CCC","v":23.67},{"d":"2000-10-29","s":"CCC","v":25.37},{"d":"2000-11-29","s":"CCC","v":28.05},{"d":"2001-01-05","s":"CCC","v":29.05},{"d":"2001-01-24","s":"CCC","v":26.9},{"d":"2001-02-09","s":"CCC","v":23.08},{"d":"2001-03-05","s":"CCC","v":22.3},{"d":"2001-03-29","s":"CCC","v":23.5},{"d":"2001-04-22","s":"CCC","v":27.5},{"d":"2001-05-07","s":"CCC","v":24.3},{"d":"2001-05-23","s":"CCC","v":23.9},{"d":"2001-07-02","s":"CCC","v":26.1},{"d":"2001-07-26","s":"CCC","v":25.1},{"d":"2001-08-11","s":"CCC","v":24.5},{"d":"2001-09-11","s":"CCC","v":25.2},{"d":"2001-09-15","s":"CCC","v":null},{"d":"2001-09-27","s":"CCC","v":28.5},{"d":"2001-10-21","s":"CCC","v":27.3},{"d":"2001-11-21","s":"CCC","v":26.1},{"d":"2001-12-15","s":"CCC","v":27.1},{"d":"2002-01-24","s":"CCC","v":26.9},{"d":"2002-02-09","s":"CCC","v":25.5},{"d":"2002-02-25","s":"CCC","v":26.1},{"d":"2002-03-29","s":"CCC","v":24.9},{"d":"2002-04-29","s":"CCC","v":23.5},{"d":"2002-05-07","s":"CCC","v":20.9},{"d":"2002-05-23","s":"CCC","v":21.7},{"d":"2002-06-03","s":"CCC","v":20.5},{"d":"2002-07-01","s":"CCC","v":23.1},{"d":"2002-08-02","s":"CCC","v":24.5},{"d":"2002-09-03","s":"CCC","v":25.7},{"d":"2002-10-13","s":"CCC","v":27.1},{"d":"2002-11-05","s":"CCC","v":25.1},{"d":"2002-12-07","s":"CCC","v":22.5},{"d":"2003-01-08","s":"CCC","v":20.3},{"d":"2003-02-08","s":"CCC","v":20.8},{"d":"2003-03-20","s":"CCC","v":20.3},{"d":"2003-04-13","s":"CCC","v":18.1},{"d":"2003-05-07","s":"CCC","v":16.3},{"d":"2003-05-30","s":"CCC","v":15.1},{"d":"2003-07-01","s":"CCC","v":14.5},{"d":"2003-08-02","s":"CCC","v":14.7},{"d":"2003-09-03","s":"CCC","v":13.9},{"d":"2003-10-04","s":"CCC","v":13.1},{"d":"2003-11-21","s":"CCC","v":12.5},{"d":"2003-12-23","s":"CCC","v":11.9},{"d":"2004-01-15","s":"CCC","v":10.6},{"d":"2004-02-08","s":"CCC","v":11.4},{"d":"2004-03-28","s":"CCC","v":11.6},{"d":"2004-04-27","s":"CCC","v":12.1},{"d":"2004-05-13","s":"CCC","v":12.8},{"d":"2004-06-14","s":"CCC","v":11.9},{"d":"2004-07-31","s":"CCC","v":12.1},{"d":"2004-09-01","s":"CCC","v":11.5},{"d":"2004-10-03","s":"CCC","v":11.75},{"d":"2004-11-04","s":"CCC","v":11.15},{"d":"2004-12-22","s":"CCC","v":10.06},{"d":"2005-01-23","s":"CCC","v":10.56},{"d":"2005-03-03","s":"CCC","v":10.26},{"d":"2005-04-04","s":"CCC","v":11.55},{"d":"2005-04-28","s":"CCC","v":12.54},{"d":"2005-05-14","s":"CCC","v":13.44},{"d":"2005-05-30","s":"CCC","v":11.95},{"d":"2005-07-08","s":"CCC","v":11.85},{"d":"2005-08-17","s":"CCC","v":11.75},{"d":"2005-09-26","s":"CCC","v":12.15},{"d":"2005-12-14","s":"CCC","v":12.15},{"d":"2006-01-07","s":"CCC","v":11.35},{"d":"2006-02-23","s":"CCC","v":11.25},{"d":"2006-04-04","s":"CCC","v":10.85},{"d":"2006-05-13","s":"CCC","v":10.46},{"d":"2006-07-08","s":"CCC","v":11.45},{"d":"2006-09-01","s":"CCC","v":11.25},{"d":"2006-10-19","s":"CCC","v":10.76},{"d":"2006-12-06","s":"CCC","v":9.96},{"d":"2007-02-07","s":"CCC","v":9.27},{"d":"2007-03-27","s":"CCC","v":9.47},{"d":"2007-05-21","s":"CCC","v":9.07},{"d":"2007-06-30","s":"CCC","v":9.96},{"d":"2007-07-31","s":"CCC","v":11.45},{"d":"2007-09-09","s":"CCC","v":11.45},{"d":"2007-10-11","s":"CCC","v":10.66},{"d":"2007-11-19","s":"CCC","v":12.35},{"d":"2008-01-14","s":"CCC","v":14.14},{"d":"2008-02-23","s":"CCC","v":14.73},{"d":"2008-03-26","s":"CCC","v":15.13},{"d":"2008-05-13","s":"CCC","v":13.74},{"d":"2008-06-20","s":"CCC","v":15.53},{"d":"2008-07-30","s":"CCC","v":16.22},{"d":"2008-09-01","s":"CCC","v":16.8},{"d":"2008-09-15","s":"CCC","v":19.9},{"d":"2008-10-01","s":"CCC","v":25.9},{"d":"2008-10-25","s":"CCC","v":33.4},{"d":"2008-11-18","s":"CCC","v":38.5},{"d":"2008-12-04","s":"CCC","v":39.7},{"d":"2008-12-11","s":"CCC","v":44.96},{"d":"2008-12-19","s":"CCC","v":39.7},{"d":"2008-12-23","s":"CCC","v":37.3},{"d":"2008-12-27","s":"CCC","v":31.3},{"d":"2009-01-05","s":"CCC","v":28.9},{"d":"2009-01-21","s":"CCC","v":30.7},{"d":"2009-02-06","s":"CCC","v":32.5},{"d":"2009-02-22","s":"CCC","v":34.3},{"d":"2009-03-07","s":"CCC","v":38.2},{"d":"2009-03-22","s":"CCC","v":32.5},{"d":"2009-04-10","s":"CCC","v":30.7},{"d":"2009-04-26","s":"CCC","v":25.9},{"d":"2009-05-12","s":"CCC","v":22.9},{"d":"2009-06-05","s":"CCC","v":20.5},{"d":"2009-06-21","s":"CCC","v":19.3},{"d":"2009-07-06","s":"CCC","v":18.7},{"d":"2009-07-30","s":"CCC","v":16.3},{"d":"2009-08-23","s":"CCC","v":16.6},{"d":"2009-09-16","s":"CCC","v":14.5},{"d":"2009-10-17","s":"CCC","v":14.2},{"d":"2009-12-04","s":"CCC","v":13.3},{"d":"2010-01-05","s":"CCC","v":11.8},{"d":"2010-02-05","s":"CCC","v":12.85},{"d":"2010-03-17","s":"CCC","v":12.4},{"d":"2010-04-18","s":"CCC","v":11.2},{"d":"2010-05-19","s":"CCC","v":13.1},{"d":"2010-06-28","s":"CCC","v":12.85},{"d":"2010-07-30","s":"CCC","v":12.1},{"d":"2010-08-31","s":"CCC","v":12.7},{"d":"2010-10-17","s":"CCC","v":11.2},{"d":"2010-11-26","s":"CCC","v":11.35},{"d":"2011-01-04","s":"CCC","v":10.45},{"d":"2011-02-13","s":"CCC","v":9.7},{"d":"2011-03-24","s":"CCC","v":10.15},{"d":"2011-05-11","s":"CCC","v":9.85},{"d":"2011-06-12","s":"CCC","v":10.9},{"d":"2011-07-14","s":"CCC","v":10.75},{"d":"2011-08-06","s":"CCC","v":13.0},{"d":"2011-09-07","s":"CCC","v":14.2},{"d":"2011-09-28","s":"CCC","v":16.3},{"d":"2011-10-17","s":"CCC","v":13.0},{"d":"2011-11-17","s":"CCC","v":14.95},{"d":"2011-12-19","s":"CCC","v":14.5},{"d":"2012-01-20","s":"CCC","v":12.7},{"d":"2012-02-20","s":"CCC","v":11.95},{"d":"2012-04-08","s":"CCC","v":11.95},{"d":"2012-05-02","s":"CCC","v":12.7},{"d":"2012-05-26","s":"CCC","v":13.3},{"d":"2012-06-26","s":"CCC","v":12.25},{"d":"2012-08-13","s":"CCC","v":11.65},{"d":"2012-09-14","s":"CCC","v":10.72},{"d":"2012-10-16","s":"CCC","v":10.82},{"d":"2012-11-09","s":"CCC","v":11.29},{"d":"2012-12-19","s":"CCC","v":10.25},{"d":"2013-02-04","s":"CCC","v":9.78},{"d":"2013-03-24","s":"CCC","v":9.12},{"d":"2013-05-03","s":"CCC","v":8.46},{"d":"2013-05-26","s":"CCC","v":9.31},{"d":"2013-06-19","s":"CCC","v":10.44},{"d":"2013-07-13","s":"CCC","v":9.59},{"d":"2013-08-22","s":"CCC","v":9.97},{"d":"2013-09-30","s":"CCC","v":9.87},{"d":"2013-11-01","s":"CCC","v":9.5},{"d":"2013-12-19","s":"CCC","v":9.12},{"d":"2014-01-27","s":"CCC","v":9.31},{"d":"2014-03-08","s":"CCC","v":8.93},{"d":"2014-04-24","s":"CCC","v":8.74},{"d":"2014-06-03","s":"CCC","v":8.17},{"d":"2014-06-19","s":"CCC","v":7.98},{"d":"2014-07-28","s":"CCC","v":8.93},{"d":"2014-08-29","s":"CCC","v":8.74},{"d":"2014-09-30","s":"CCC","v":9.69},{"d":"2014-10-31","s":"CCC","v":9.97},{"d":"2014-12-10","s":"CCC","v":11.76},{"d":"2015-01-11","s":"CCC","v":11.39},{"d":"2015-02-19","s":"CCC","v":10.25},{"d":"2015-04-08","s":"CCC","v":10.44},{"d":"2015-05-18","s":"CCC","v":10.63},{"d":"2015-06-26","s":"CCC","v":11.58},{"d":"2015-07-28","s":"CCC","v":13.27},{"d":"2015-08-29","s":"CCC","v":13.09},{"d":"2015-09-30","s":"CCC","v":14.03},{"d":"2015-10-31","s":"CCC","v":13.84},{"d":"2015-12-02","s":"CCC","v":16.11},{"d":"2015-12-18","s":"CCC","v":18.19},{"d":"2016-01-18","s":"CCC","v":19.7},{"d":"2016-02-06","s":"CCC","v":21.59},{"d":"2016-02-27","s":"CCC","v":20.64},{"d":"2016-03-14","s":"CCC","v":18.57},{"d":"2016-04-07","s":"CCC","v":18.95},{"d":"2016-04-30","s":"CCC","v":16.87},{"d":"2016-05-24","s":"CCC","v":16.11},{"d":"2016-06-25","s":"CCC","v":15.17},{"d":"2016-07-27","s":"CCC","v":14.22},{"d":"2016-09-12","s":"CCC","v":13.27},{"d":"2016-10-14","s":"CCC","v":12.71},{"d":"2016-11-07","s":"CCC","v":13.46},{"d":"2016-12-01","s":"CCC","v":12.33},{"d":"2016-12-17","s":"CCC","v":11.76},{"d":"2017-01-10","s":"CCC","v":11.01},{"d":"2017-02-03","s":"CCC","v":10.25},{"d":"2017-02-27","s":"CCC","v":9.78},{"d":"2017-03-22","s":"CCC","v":10.34},{"d":"2017-05-09","s":"CCC","v":10.06},{"d":"2017-06-26","s":"CCC","v":10.53},{"d":"2017-07-27","s":"CCC","v":10.06},{"d":"2017-09-05","s":"CCC","v":10.53},{"d":"2017-10-15","s":"CCC","v":10.25},{"d":"2017-11-15","s":"CCC","v":10.82},{"d":"2017-12-25","s":"CCC","v":10.25},{"d":"2018-02-10","s":"CCC","v":10.82},{"d":"2018-03-22","s":"CCC","v":10.63},{"d":"2018-04-23","s":"CCC","v":9.87},{"d":"2018-06-09","s":"CCC","v":9.59},{"d":"2018-07-03","s":"CCC","v":9.97},{"d":"2018-08-12","s":"CCC","v":9.69},{"d":"2018-09-20","s":"CCC","v":9.59},{"d":"2018-10-22","s":"CCC","v":10.82},{"d":"2018-11-23","s":"CCC","v":12.14},{"d":"2018-12-20","s":"CCC","v":13.65},{"d":"2019-01-17","s":"CCC","v":11.95},{"d":"2019-03-06","s":"CCC","v":11.76},{"d":"2019-04-22","s":"CCC","v":10.72},{"d":"2019-05-24","s":"CCC","v":11.58},{"d":"2019-07-11","s":"CCC","v":11.76},{"d":"2019-08-11","s":"CCC","v":12.33},{"d":"2019-09-12","s":"CCC","v":12.14},{"d":"2019-10-14","s":"CCC","v":12.52},{"d":"2019-11-22","s":"CCC","v":13.09},{"d":"2019-12-16","s":"CCC","v":11.76},{"d":"2020-01-09","s":"CCC","v":11.29},{"d":"2020-02-02","s":"CCC","v":11.58},{"d":"2020-02-26","s":"CCC","v":15.92},{"d":"2020-03-17","s":"CCC","v":19.79},{"d":"2020-04-02","s":"CCC","v":18.0},{"d":"2020-04-18","s":"CCC","v":17.62},{"d":"2020-05-07","s":"CCC","v":18.19},{"d":"2020-05-23","s":"CCC","v":17.24},{"d":"2020-06-04","s":"CCC","v":13.84},{"d":"2020-06-24","s":"CCC","v":14.22},{"d":"2020-07-26","s":"CCC","v":12.9},{"d":"2020-08-26","s":"CCC","v":12.14},{"d":"2020-09-27","s":"CCC","v":11.57},{"d":"2020-10-21","s":"CCC","v":11.38},{"d":"2020-11-13","s":"CCC","v":10.25},{"d":"2020-12-15","s":"CCC","v":8.74},{"d":"2021-01-17","s":"CCC","v":7.8},{"d":"2021-03-05","s":"CCC","v":7.51},{"d":"2021-04-22","s":"CCC","v":7.13},{"d":"2021-05-23","s":"CCC","v":7.13},{"d":"2021-07-02","s":"CCC","v":6.66},{"d":"2021-08-11","s":"CCC","v":7.42},{"d":"2021-09-27","s":"CCC","v":7.51},{"d":"2021-11-14","s":"CCC","v":8.17},{"d":"2021-12-31","s":"CCC","v":8.36},{"d":"2022-02-17","s":"CCC","v":9.69},{"d":"2022-03-29","s":"CCC","v":10.25},{"d":"2022-04-29","s":"CCC","v":12.33},{"d":"2022-05-31","s":"CCC","v":13.65},{"d":"2022-06-27","s":"CCC","v":14.97},{"d":"2022-07-26","s":"CCC","v":13.08},{"d":"2022-08-10","s":"CCC","v":12.71},{"d":"2022-09-03","s":"CCC","v":15.35},{"d":"2022-09-27","s":"CCC","v":16.77},{"d":"2022-10-28","s":"CCC","v":16.68},{"d":"2022-11-21","s":"CCC","v":15.73},{"d":"2022-12-15","s":"CCC","v":15.35},{"d":"2023-01-16","s":"CCC","v":13.84},{"d":"2023-02-09","s":"CCC","v":14.41},{"d":"2023-03-20","s":"CCC","v":15.26},{"d":"2023-04-21","s":"CCC","v":14.41},{"d":"2023-05-23","s":"CCC","v":14.6},{"d":"2023-06-23","s":"CCC","v":14.03},{"d":"2023-07-25","s":"CCC","v":13.65},{"d":"2023-09-11","s":"CCC","v":13.55},{"d":"2023-10-12","s":"CCC","v":14.79},{"d":"2023-10-28","s":"CCC","v":15.35},{"d":"2023-11-21","s":"CCC","v":14.22},{"d":"2023-12-07","s":"CCC","v":13.46},{"d":"2023-12-23","s":"CCC","v":12.61},{"d":"2024-01-08","s":"CCC","v":13.65},{"d":"2024-01-24","s":"CCC","v":13.27},{"d":"2024-02-08","s":"CCC","v":13.75},
{"d":"1997-01-02","s":"10 Yr. Treasury","v":6.57},{"d":"1997-02-11","s":"10 Yr. Treasury","v":6.47},{"d":"1997-03-15","s":"10 Yr. Treasury","v":6.66},{"d":"1997-04-07","s":"10 Yr. Treasury","v":6.85},{"d":"1997-05-17","s":"10 Yr. Treasury","v":6.66},{"d":"1997-06-26","s":"10 Yr. Treasury","v":6.38},{"d":"1997-08-04","s":"10 Yr. Treasury","v":6.19},{"d":"1997-09-13","s":"10 Yr. Treasury","v":6.00},{"d":"1997-10-15","s":"10 Yr. Treasury","v":5.81},{"d":"1997-10-30","s":"10 Yr. Treasury","v":5.72},{"d":"1997-12-25","s":"10 Yr. Treasury","v":5.53},{"d":"1998-01-25","s":"10 Yr. Treasury","v":5.62},{"d":"1998-03-30","s":"10 Yr. Treasury","v":5.62},{"d":"1998-05-16","s":"10 Yr. Treasury","v":5.53},{"d":"1998-07-03","s":"10 Yr. Treasury","v":5.43},{"d":"1998-08-04","s":"10 Yr. Treasury","v":4.96},{"d":"1998-08-28","s":"10 Yr. Treasury","v":4.68},{"d":"1998-09-20","s":"10 Yr. Treasury","v":4.39},{"d":"1998-10-14","s":"10 Yr. Treasury","v":4.58},{"d":"1998-10-30","s":"10 Yr. Treasury","v":4.77},{"d":"1998-11-23","s":"10 Yr. Treasury","v":4.58},{"d":"1998-12-17","s":"10 Yr. Treasury","v":4.68},{"d":"1999-01-17","s":"10 Yr. Treasury","v":4.77},{"d":"1999-02-26","s":"10 Yr. Treasury","v":5.24},{"d":"1999-03-30","s":"10 Yr. Treasury","v":5.05},{"d":"1999-04-30","s":"10 Yr. Treasury","v":5.24},{"d":"1999-06-17","s":"10 Yr. Treasury","v":5.72},{"d":"1999-07-27","s":"10 Yr. Treasury","v":5.90},{"d":"1999-09-04","s":"10 Yr. Treasury","v":5.90},{"d":"1999-10-21","s":"10 Yr. Treasury","v":6.09},{"d":"1999-12-08","s":"10 Yr. Treasury","v":6.09},{"d":"2000-01-17","s":"10 Yr. Treasury","v":6.66},{"d":"2000-03-05","s":"10 Yr. Treasury","v":6.28},{"d":"2000-04-05","s":"10 Yr. Treasury","v":6.09},{"d":"2000-05-16","s":"10 Yr. Treasury","v":6.66},{"d":"2000-05-31","s":"10 Yr. Treasury","v":6.85},{"d":"2000-07-18","s":"10 Yr. Treasury","v":5.90},{"d":"2000-09-03","s":"10 Yr. Treasury","v":5.81},{"d":"2000-09-27","s":"10 Yr. Treasury","v":5.72},{"d":"2000-10-29","s":"10 Yr. Treasury","v":5.72},{"d":"2001-01-08","s":"10 Yr. Treasury","v":5.09},{"d":"2001-03-13","s":"10 Yr. Treasury","v":4.79},{"d":"2001-05-15","s":"10 Yr. Treasury","v":5.49},{"d":"2001-07-02","s":"10 Yr. Treasury","v":5.29},{"d":"2001-09-03","s":"10 Yr. Treasury","v":4.79},{"d":"2001-11-06","s":"10 Yr. Treasury","v":4.39},{"d":"2001-12-23","s":"10 Yr. Treasury","v":4.99},{"d":"2002-03-13","s":"10 Yr. Treasury","v":5.29},{"d":"2002-04-29","s":"10 Yr. Treasury","v":5.09},{"d":"2002-07-01","s":"10 Yr. Treasury","v":4.59},{"d":"2002-08-18","s":"10 Yr. Treasury","v":4.19},{"d":"2002-10-05","s":"10 Yr. Treasury","v":3.70},{"d":"2002-11-21","s":"10 Yr. Treasury","v":4.09},{"d":"2003-01-24","s":"10 Yr. Treasury","v":3.89},{"d":"2003-03-28","s":"10 Yr. Treasury","v":3.80},{"d":"2003-06-07","s":"10 Yr. Treasury","v":3.30},{"d":"2003-07-25","s":"10 Yr. Treasury","v":4.39},{"d":"2003-09-19","s":"10 Yr. Treasury","v":4.29},{"d":"2003-11-21","s":"10 Yr. Treasury","v":4.29},{"d":"2004-01-23","s":"10 Yr. Treasury","v":4.09},{"d":"2004-03-12","s":"10 Yr. Treasury","v":3.80},{"d":"2004-04-27","s":"10 Yr. Treasury","v":4.59},{"d":"2004-06-14","s":"10 Yr. Treasury","v":4.79},{"d":"2004-08-16","s":"10 Yr. Treasury","v":4.29},{"d":"2004-10-03","s":"10 Yr. Treasury","v":4.09},{"d":"2004-12-22","s":"10 Yr. Treasury","v":4.29},{"d":"2005-03-19","s":"10 Yr. Treasury","v":4.49},{"d":"2005-05-30","s":"10 Yr. Treasury","v":3.99},{"d":"2005-08-17","s":"10 Yr. Treasury","v":4.29},{"d":"2005-11-04","s":"10 Yr. Treasury","v":4.49},{"d":"2006-01-23","s":"10 Yr. Treasury","v":4.39},{"d":"2006-04-27","s":"10 Yr. Treasury","v":5.09},{"d":"2006-06-22","s":"10 Yr. Treasury","v":5.19},{"d":"2006-09-01","s":"10 Yr. Treasury","v":4.79},{"d":"2006-11-20","s":"10 Yr. Treasury","v":4.39},{"d":"2007-02-07","s":"10 Yr. Treasury","v":4.59},{"d":"2007-04-11","s":"10 Yr. Treasury","v":4.69},{"d":"2007-06-14","s":"10 Yr. Treasury","v":5.19},{"d":"2007-08-16","s":"10 Yr. Treasury","v":4.59},{"d":"2007-10-19","s":"10 Yr. Treasury","v":4.39},{"d":"2007-12-05","s":"10 Yr. Treasury","v":3.89},{"d":"2008-01-22","s":"10 Yr. Treasury","v":3.80},{"d":"2008-03-10","s":"10 Yr. Treasury","v":3.50},{"d":"2008-04-27","s":"10 Yr. Treasury","v":3.80},{"d":"2008-06-13","s":"10 Yr. Treasury","v":4.19},{"d":"2008-07-30","s":"10 Yr. Treasury","v":3.99},{"d":"2008-09-15","s":"10 Yr. Treasury","v":3.65},{"d":"2008-10-17","s":"10 Yr. Treasury","v":3.85},{"d":"2008-11-18","s":"10 Yr. Treasury","v":3.4},{"d":"2008-12-11","s":"10 Yr. Treasury","v":2.2},{"d":"2009-01-05","s":"10 Yr. Treasury","v":2.5},{"d":"2009-02-06","s":"10 Yr. Treasury","v":2.8},{"d":"2009-03-26","s":"10 Yr. Treasury","v":3.1},{"d":"2009-05-12","s":"10 Yr. Treasury","v":3.4},{"d":"2009-06-13","s":"10 Yr. Treasury","v":3.85},{"d":"2009-08-15","s":"10 Yr. Treasury","v":3.7},{"d":"2009-10-17","s":"10 Yr. Treasury","v":3.85},{"d":"2009-12-20","s":"10 Yr. Treasury","v":3.55},{"d":"2010-02-05","s":"10 Yr. Treasury","v":3.7},{"d":"2010-03-25","s":"10 Yr. Treasury","v":4.0},{"d":"2010-05-27","s":"10 Yr. Treasury","v":3.4},{"d":"2010-07-30","s":"10 Yr. Treasury","v":2.95},{"d":"2010-10-01","s":"10 Yr. Treasury","v":2.5},{"d":"2010-12-04","s":"10 Yr. Treasury","v":3.4},{"d":"2011-02-05","s":"10 Yr. Treasury","v":3.7},{"d":"2011-04-09","s":"10 Yr. Treasury","v":3.4},{"d":"2011-06-12","s":"10 Yr. Treasury","v":3.1},{"d":"2011-08-14","s":"10 Yr. Treasury","v":2.2},{"d":"2011-10-17","s":"10 Yr. Treasury","v":2.05},{"d":"2011-12-19","s":"10 Yr. Treasury","v":2.05},{"d":"2012-03-23","s":"10 Yr. Treasury","v":2.2},{"d":"2012-06-10","s":"10 Yr. Treasury","v":1.6},{"d":"2012-07-28","s":"10 Yr. Treasury","v":1.75},{"d":"2012-10-01","s":"10 Yr. Treasury","v":1.56},{"d":"2012-12-03","s":"10 Yr. Treasury","v":1.84},{"d":"2013-02-20","s":"10 Yr. Treasury","v":2.03},{"d":"2013-04-25","s":"10 Yr. Treasury","v":1.75},{"d":"2013-06-11","s":"10 Yr. Treasury","v":2.31},{"d":"2013-07-29","s":"10 Yr. Treasury","v":2.69},{"d":"2013-09-14","s":"10 Yr. Treasury","v":2.69},{"d":"2013-11-01","s":"10 Yr. Treasury","v":2.60},{"d":"2014-01-03","s":"10 Yr. Treasury","v":2.98},{"d":"2014-03-08","s":"10 Yr. Treasury","v":2.60},{"d":"2014-05-26","s":"10 Yr. Treasury","v":2.50},{"d":"2014-08-13","s":"10 Yr. Treasury","v":2.41},{"d":"2014-10-16","s":"10 Yr. Treasury","v":2.22},{"d":"2015-01-03","s":"10 Yr. Treasury","v":1.94},{"d":"2015-03-07","s":"10 Yr. Treasury","v":2.03},{"d":"2015-05-26","s":"10 Yr. Treasury","v":2.41},{"d":"2015-08-13","s":"10 Yr. Treasury","v":2.13},{"d":"2015-10-31","s":"10 Yr. Treasury","v":2.31},{"d":"2016-01-18","s":"10 Yr. Treasury","v":2.03},{"d":"2016-02-19","s":"10 Yr. Treasury","v":1.75},{"d":"2016-04-22","s":"10 Yr. Treasury","v":1.84},{"d":"2016-06-25","s":"10 Yr. Treasury","v":1.56},{"d":"2016-08-28","s":"10 Yr. Treasury","v":1.65},{"d":"2016-10-14","s":"10 Yr. Treasury","v":1.75},{"d":"2016-12-01","s":"10 Yr. Treasury","v":2.60},{"d":"2017-02-19","s":"10 Yr. Treasury","v":2.41},{"d":"2017-05-09","s":"10 Yr. Treasury","v":2.22},{"d":"2017-08-28","s":"10 Yr. Treasury","v":2.03},{"d":"2017-10-30","s":"10 Yr. Treasury","v":2.31},{"d":"2018-01-17","s":"10 Yr. Treasury","v":2.79},{"d":"2018-04-23","s":"10 Yr. Treasury","v":3.07},{"d":"2018-07-11","s":"10 Yr. Treasury","v":2.88},{"d":"2018-10-14","s":"10 Yr. Treasury","v":3.16},{"d":"2018-12-17","s":"10 Yr. Treasury","v":2.98},{"d":"2019-03-06","s":"10 Yr. Treasury","v":2.50},{"d":"2019-05-24","s":"10 Yr. Treasury","v":2.13},{"d":"2019-08-11","s":"10 Yr. Treasury","v":1.56},{"d":"2019-10-14","s":"10 Yr. Treasury","v":1.75},{"d":"2019-12-16","s":"10 Yr. Treasury","v":1.84},{"d":"2020-02-02","s":"10 Yr. Treasury","v":1.56},{"d":"2020-03-05","s":"10 Yr. Treasury","v":0.80},{"d":"2020-04-05","s":"10 Yr. Treasury","v":0.61},{"d":"2020-05-23","s":"10 Yr. Treasury","v":0.71},{"d":"2020-07-26","s":"10 Yr. Treasury","v":0.61},{"d":"2020-09-27","s":"10 Yr. Treasury","v":0.90},{"d":"2020-11-29","s":"10 Yr. Treasury","v":1.09},{"d":"2021-02-01","s":"10 Yr. Treasury","v":1.18},{"d":"2021-03-29","s":"10 Yr. Treasury","v":1.75},{"d":"2021-05-23","s":"10 Yr. Treasury","v":1.65},{"d":"2021-07-18","s":"10 Yr. Treasury","v":1.28},{"d":"2021-09-11","s":"10 Yr. Treasury","v":1.56},{"d":"2021-11-14","s":"10 Yr. Treasury","v":1.56},{"d":"2021-12-31","s":"10 Yr. Treasury","v":1.84},{"d":"2022-02-17","s":"10 Yr. Treasury","v":2.13},{"d":"2022-04-06","s":"10 Yr. Treasury","v":2.88},{"d":"2022-05-23","s":"10 Yr. Treasury","v":3.26},{"d":"2022-07-10","s":"10 Yr. Treasury","v":2.88},{"d":"2022-08-26","s":"10 Yr. Treasury","v":3.45},{"d":"2022-10-05","s":"10 Yr. Treasury","v":4.01},{"d":"2022-11-13","s":"10 Yr. Treasury","v":3.73},{"d":"2022-12-31","s":"10 Yr. Treasury","v":3.45},{"d":"2023-02-17","s":"10 Yr. Treasury","v":4.01},{"d":"2023-04-05","s":"10 Yr. Treasury","v":3.54},{"d":"2023-05-23","s":"10 Yr. Treasury","v":3.64},{"d":"2023-07-09","s":"10 Yr. Treasury","v":3.73},{"d":"2023-08-26","s":"10 Yr. Treasury","v":4.30},{"d":"2023-10-12","s":"10 Yr. Treasury","v":4.87},{"d":"2023-11-13","s":"10 Yr. Treasury","v":4.49},{"d":"2023-12-15","s":"10 Yr. Treasury","v":3.82},{"d":"2024-01-16","s":"10 Yr. Treasury","v":4.11},{"d":"2024-02-08","s":"10 Yr. Treasury","v":4.30}
]},
"mark":{"type":"line","strokeWidth":3.2,"strokeJoin":"round","invalid":"break-paths-show-domains"},
"encoding":{
"x":{"field":"d","type":"temporal","scale":{"type":"utc","domain":[{"year":1997,"month":1,"date":2,"utc":true},{"year":2024,"month":2,"date":8,"utc":true}]},
"axis":{"title":"Date","format":"%Y","values":[{"year":2000,"month":1,"date":1,"utc":true},{"year":2005,"month":1,"date":1,"utc":true},{"year":2010,"month":1,"date":1,"utc":true},{"year":2015,"month":1,"date":1,"utc":true},{"year":2020,"month":1,"date":1,"utc":true}],"grid":false,"domain":false,"ticks":false,"labelPadding":4,"labelFontSize":20,"labelColor":"#f2f5fa","titleFontSize":20,"titleFontWeight":"normal","titleColor":"#f2f5fa","titlePadding":26,"labelFlush":false}},
"y":{"field":"v","type":"quantitative","scale":{"domain":[-1.96,46.9],"nice":false,"zero":false},
"axis":{"title":"Yield (%)","values":[0,5,10,15,20,25,30,35,40,45],"grid":false,"domain":false,"ticks":false,"labelPadding":4,"labelFontSize":20,"labelColor":"#f2f5fa","titleFontSize":20,"titleFontWeight":"normal","titleColor":"#f2f5fa","titlePadding":32}},
"color":{"field":"s","type":"nominal","scale":{"domain":["BBB","BB","B","CCC","10 Yr. Treasury"],"range":["#636efa","#ef553b","#00cc96","#ffa500","#ffffff"]},
"legend":{"title":null,"orient":"none","legendX":2142,"legendY":5,"symbolType":"M-2.35,0H2.35","symbolSize":400,"symbolStrokeWidth":3.5,"labelFontSize":20,"labelColor":"#f2f5fa","labelOffset":22,"rowPadding":11,"labelLimit":300}}
}},
{"data":{"values":[{"z":0}]},
"mark":{"type":"rule","color":"#ffffff","strokeWidth":4.5},
"encoding":{"y":{"field":"z","type":"quantitative"}}}
]
}
